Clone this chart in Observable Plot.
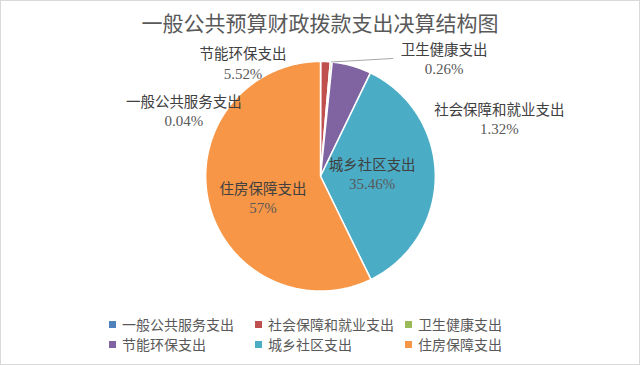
<!DOCTYPE html>
<html>
<head>
<meta charset="utf-8">
<script src="https://cdn.jsdelivr.net/npm/d3@7"></script>
<script src="https://cdn.jsdelivr.net/npm/@observablehq/plot@0.6"></script>
<style>
  html, body { margin: 0; padding: 0; background: #fff; }
  #wrap { position: relative; width: 640px; height: 365px; box-sizing: border-box; border: 1px solid #d9d9d9; overflow: hidden; font-family: "Noto Sans CJK SC", sans-serif; }
  #title { position: absolute; left: 0; right: 0; top: 6px; text-align: center; font-size: 21px; line-height: 30px; color: #595959; }
  #chart { position: absolute; left: -1px; top: 37px; }
  #legend { position: absolute; left: 0; top: 313px; width: 640px; height: 44px; }
  .item { position: absolute; display: flex; align-items: center; font-size: 14px; line-height: 20px; color: #595959; white-space: nowrap; }
  .sw { width: 7px; height: 7px; margin-right: 6px; }
</style>
</head>
<body>
<div id="wrap">
  <div id="title"></div>
  <div id="chart"></div>
  <div id="legend"></div>
</div>
<script>
const titleText = "一般公共预算财政拨款支出决算结构图";
const categories = ["一般公共服务支出", "社会保障和就业支出", "卫生健康支出", "节能环保支出", "城乡社区支出", "住房保障支出"];
const values = [0.04, 1.32, 0.26, 5.52, 35.46, 57];
const valueLabels = ["0.04%", "1.32%", "0.26%", "5.52%", "35.46%", "57%"];
const colors = ["#4F81BD", "#C0504D", "#9BBB59", "#8064A2", "#4BACC6", "#F79646"];

// label layout (style): anchor radius (in pie radii) + pixel offsets
const R = 115; // pie radius in px
const labelLayout = [
  {r: 1, dx: -137, dy: 50},
  {r: 1, dx: 174, dy: 58},
  {r: 1, dx: 113, dy: -2.5},
  {r: 1, dx: -109, dy: -2},
  {r: 0.45, dx: 0, dy: -2},
  {r: 0.55, dx: 4, dy: 8}
];
const leaderIndex = 2;
const leaderOffset = {dx: 62, dy: -3.5};

document.getElementById("title").textContent = titleText;

const total = d3.sum(values);
let acc = 0;
const slices = categories.map((name, i) => {
  const a0 = acc / total * 2 * Math.PI;
  acc += values[i];
  const a1 = acc / total * 2 * Math.PI;
  return {name, value: values[i], label: valueLabels[i], a0, a1, mid: (a0 + a1) / 2};
});

// polygon points for each slice (center, arc, center)
const pts = [];
for (const s of slices) {
  pts.push({name: s.name, x: 0, y: 0});
  const n = Math.max(2, Math.ceil((s.a1 - s.a0) / (Math.PI / 360)));
  for (let k = 0; k <= n; k++) {
    const a = s.a0 + (s.a1 - s.a0) * k / n;
    pts.push({name: s.name, x: Math.sin(a), y: Math.cos(a)});
  }
  pts.push({name: s.name, x: 0, y: 0});
}

const labels = slices.map((s, i) => {
  const L = labelLayout[i];
  const ax = L.r * Math.sin(s.mid), ay = L.r * Math.cos(s.mid);
  return {name: s.name, label: s.label, ax, ay, x: ax + L.dx / R, y: ay - L.dy / R};
});
const lead = labels[leaderIndex];
const leaders = [{x1: lead.ax, y1: lead.ay, x2: lead.ax + leaderOffset.dx / R, y2: lead.ay - leaderOffset.dy / R}];

const W = 640, H = 272, cx = 320.5, cy = 138;
const chart = Plot.plot({
  width: W,
  height: H,
  margin: 0,
  x: {domain: [-cx / R, (W - cx) / R], range: [0, W], axis: null},
  y: {domain: [-(H - cy) / R, cy / R], range: [H, 0], axis: null},
  color: {domain: categories, range: colors},
  style: {background: "transparent", overflow: "visible"},
  marks: [
    Plot.line(pts, {x: "x", y: "y", z: "name", fill: "name", stroke: "white", strokeWidth: 1.5, curve: "linear"}),
    Plot.link(leaders, {x1: "x1", y1: "y1", x2: "x2", y2: "y2", stroke: "#a6a6a6", strokeWidth: 1}),
    Plot.text(labels, {x: "x", y: "y", text: "name", dy: -9, fill: "#404040", fontSize: 14.5, fontFamily: "Noto Sans CJK SC"}),
    Plot.text(labels, {x: "x", y: "y", text: "label", dy: 10, fill: "#595959", fontSize: 15, fontFamily: "Liberation Serif"})
  ]
});
document.getElementById("chart").appendChild(chart);

const colorScale = chart.scale("color");
const legendCols = [108, 254, 404];
const legendRows = [0, 20];
const legend = document.getElementById("legend");
categories.forEach((name, i) => {
  const item = document.createElement("div");
  item.className = "item";
  item.style.left = legendCols[i % 3] + "px";
  item.style.top = legendRows[Math.floor(i / 3)] + "px";
  const sw = document.createElement("span");
  sw.className = "sw";
  sw.style.background = colorScale.apply(name);
  const tx = document.createElement("span");
  tx.textContent = name;
  item.appendChild(sw);
  item.appendChild(tx);
  legend.appendChild(item);
});
</script>
</body>
</html>
